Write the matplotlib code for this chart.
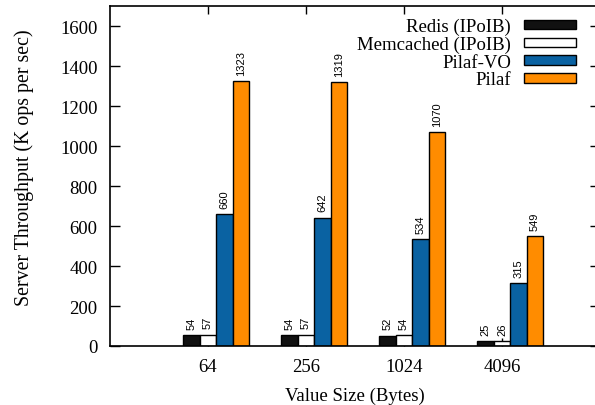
import matplotlib
matplotlib.use("Agg")
import matplotlib.pyplot as plt
import numpy as np

categories = ["64", "256", "1024", "4096"]
series_names = ["Redis (IPoIB)", "Memcached (IPoIB)", "Pilaf-VO", "Pilaf"]
redis = [54, 54, 52, 25]
memcached = [57, 57, 54, 26]
pilaf_vo = [660, 642, 534, 315]
pilaf = [1323, 1319, 1070, 549]
colors = ["#111111", "#ffffff", "#0a62a2", "#ff8c00"]
yticks = [0, 200, 400, 600, 800, 1000, 1200, 1400, 1600]

plt.rcParams['font.family'] = ['Liberation Serif', 'DejaVu Serif']

fig = plt.figure(figsize=(5.95, 4.06), dpi=100)
ax = fig.add_axes([110/595, 59/406, 490/595, 340/406])

x = np.arange(len(categories))
w = 0.168
series = [redis, memcached, pilaf_vo, pilaf]
for k, (vals, name, c) in enumerate(zip(series, series_names, colors)):
    pos = x + (k - 1) * w
    ax.bar(pos, vals, width=w, color=c, edgecolor="black", linewidth=1.0, label=name, zorder=2)
    for p, v in zip(pos, vals):
        ax.annotate(str(v), (p, v), xytext=(0, 4.5), textcoords="offset points",
                    rotation=90, ha="center", va="bottom", fontsize=8,
                    family=["Liberation Sans", "DejaVu Sans"])

ax.set_xlim(-1, 4)
ax.set_ylim(0, 1700)
ax.set_xticks(x)
ax.set_xticklabels(categories)
ax.set_yticks(yticks)
ax.tick_params(axis="both", direction="in", top=True, right=True, labelsize=13.5, width=1)
ax.tick_params(axis="y", length=7, pad=9)
ax.tick_params(axis="x", length=5.5, pad=9)
for s in ax.spines.values():
    s.set_linewidth(1.2)

ax.set_xlabel("Value Size (Bytes)", fontsize=13.5, labelpad=8)
ax.set_ylabel("Server Throughput (K ops per sec)", fontsize=14.3)
ax.yaxis.set_label_coords(-0.155, 0.526)

leg = ax.legend(loc="upper right", bbox_to_anchor=(576/595, 1 - 19/406), bbox_transform=fig.transFigure,
                frameon=False, markerfirst=False, fontsize=13.5, handlelength=2.77, handleheight=0.43,
                labelspacing=0.03, handletextpad=0.7, borderaxespad=0, borderpad=0)
for t in leg.get_texts():
    t.set_ha("right")

fig.savefig("out.png", dpi=100)
